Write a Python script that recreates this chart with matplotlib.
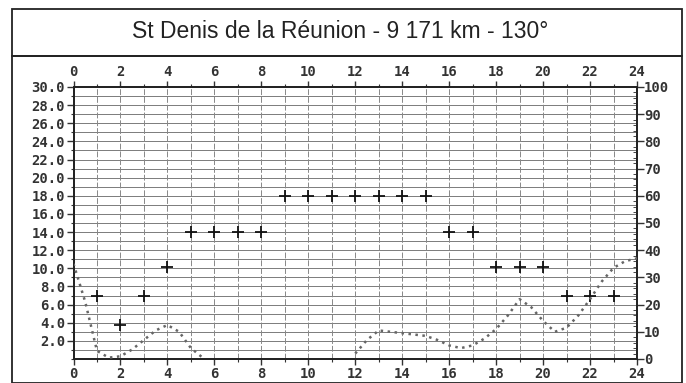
import matplotlib

matplotlib.use("Agg")
import numpy as np
from matplotlib import pyplot as plt
from matplotlib.patches import Rectangle
from matplotlib.ticker import MultipleLocator

title = "St Denis de la Réunion - 9 171 km - 130°"

# frequency (MHz) picked for each hour, left scale
hours = [1, 2, 3, 4, 5, 6, 7, 8, 9, 10, 11, 12, 13, 14, 15, 16, 17, 18, 19, 20, 21, 22, 23]
freq = [7.0, 3.7, 7.0, 10.1, 14.0, 14.0, 14.0, 14.0, 18.0, 18.0, 18.0, 18.0, 18.0,
        18.0, 18.0, 14.0, 14.0, 10.1, 10.1, 10.1, 7.0, 7.0, 7.0]

# reliability (%) every half hour, right scale; nan where it sits under the axis
rel_hours = [0, 0.5, 1, 1.5, 2, 2.5, 3, 3.5, 4, 4.5, 5, 5.5, 6, 11.5, 12, 12.5, 13,
             13.5, 14, 14.5, 15, 15.5, 16, 16.5, 17, 17.5, 18, 18.5, 19, 19.5, 20,
             20.5, 21, 21.5, 22, 22.5, 23, 23.5, 24]
rel = [35, 21, 3, 0.5, 1, 3.5, 7, 10.5, 12.5, 10, 4, 0.5, np.nan, np.nan, 2, 7, 10.5,
       10, 9.5, 9, 8.5, 7, 5, 4, 5, 7.5, 11, 16, 22, 19, 14, 10, 11.5, 16, 22, 28.5,
       33.5, 36, 37]

W, H = 686, 383
fig = plt.figure(figsize=(W / 100, H / 100), dpi=100)

# title box and chart box
fig.patches.append(Rectangle((11.5 / W, 1 - 56 / H), 670 / W, 47 / H,
                             transform=fig.transFigure, fill=False, lw=1.3, ec="#222"))
fig.patches.append(Rectangle((11.5 / W, 0), 670 / W, 1 - 56 / H,
                             transform=fig.transFigure, fill=False, lw=1.3, ec="#222"))
fig.text(0.496, 1 - 32 / H, title, ha="center", va="center", fontsize=16.5,
         family="Liberation Sans", color="#222")

x0, x1 = 73.5 / W, 637 / W
y0, y1 = 1 - 359 / H, 1 - 87 / H
ax = fig.add_axes([x0, y0, x1 - x0, y1 - y0])
ax.set_xlim(0, 24)
ax.set_ylim(0, 30)

for v in range(1, 30):
    ax.axhline(v, color="#666", lw=0.6, zorder=1)
for h in range(1, 24):
    ax.axvline(h, color="#888", lw=0.7, ls=(0, (6, 2)), zorder=1)

ax.plot(hours, freq, ls="none", marker="+", ms=9, mew=1.3, color="#111", zorder=3)

tick_font = dict(family="DejaVu Sans Mono", weight="bold", size=10)
ax.xaxis.set_minor_locator(MultipleLocator(1))
ax.yaxis.set_minor_locator(MultipleLocator(1))
ax.set_xticks(range(0, 25, 2))
ax.set_xticklabels([str(h) for h in range(0, 25, 2)], **tick_font)
ax.set_yticks(np.arange(2, 31, 2))
ax.set_yticklabels([f"{v:.1f}" for v in np.arange(2, 31, 2)], **tick_font)
ax.tick_params(axis="x", which="both", top=True, labeltop=True, direction="out",
               colors="#333", labelcolor="#333")
ax.tick_params(axis="x", which="major", length=4, width=1, pad=2)
ax.tick_params(axis="x", which="minor", length=2, width=0.8)
ax.tick_params(axis="y", which="major", length=5, width=1, pad=1, colors="#333")
ax.tick_params(axis="y", which="minor", length=2, width=0.8, colors="#333")
for s in ax.spines.values():
    s.set_linewidth(1.3)
    s.set_color("#222")

ax2 = ax.twinx()
ax2.set_ylim(0, 100)
ax2.plot(rel_hours, rel, ls=(0, (1, 1.8)), lw=1.8, color="#666", zorder=3)
ax2.set_yticks(range(0, 101, 10))
ax2.set_yticklabels([str(v) for v in range(0, 101, 10)], **tick_font)
ax2.yaxis.set_minor_locator(MultipleLocator(2))
ax2.tick_params(axis="y", which="major", length=5, width=1, pad=0, direction="out",
                colors="#333")
ax2.tick_params(axis="y", which="minor", length=3, width=0.7, direction="in",
                colors="#444")
for s in ax2.spines.values():
    s.set_linewidth(1.3)
    s.set_color("#222")

fig.savefig("out.png", dpi=100)
